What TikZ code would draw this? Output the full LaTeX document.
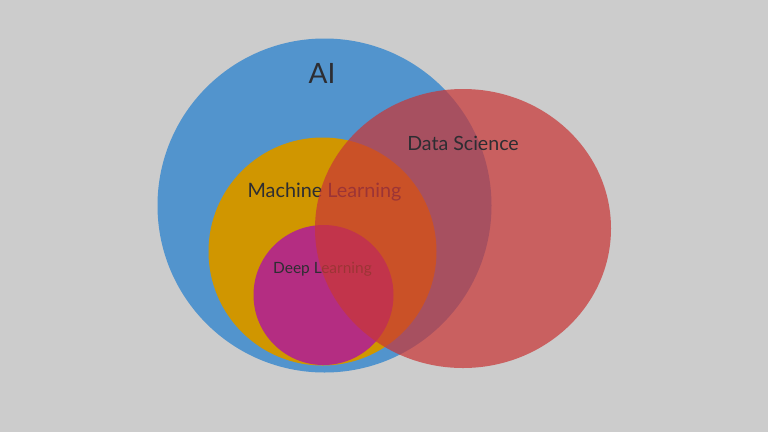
\documentclass[tikz,border=0pt]{standalone}
\usepackage{fontspec}
\setmainfont{Lato}
\usetikzlibrary{positioning}

\definecolor{bggray}{RGB}{204,204,204}
\definecolor{aiblue}{RGB}{82,148,205}
\definecolor{mlgold}{RGB}{208,150,0}
\definecolor{dlpink}{RGB}{180,45,130}
\definecolor{dsred}{RGB}{200,55,55}
\definecolor{labelgray}{RGB}{45,45,50}

\tikzset{
	label/.style={text=labelgray,inner sep=0pt},
}

\begin{document}
\begin{tikzpicture}[x=1pt,y=-1pt]
		\fill[bggray](0,0) rectangle (768,432);
		\useasboundingbox (0,0) rectangle (768,432);
		\fill[aiblue](324.5,205.5) circle[radius=167];
		\fill[mlgold](322.5,251.5) circle[radius=114];
		\fill[dlpink](323.5,295) circle[radius=70];
		\node (ai) at (322,73) [label,font=\fontsize{28}{28}\selectfont]{AI};
		\node (ml) at (324.5,192) [label,font=\fontsize{19.8}{19.8}\selectfont]{Machine Learning};
		\node (dl) at (322.5,269) [label,font=\fontsize{15.5}{15.5}\selectfont]{Deep Learning};
		\fill[dsred,opacity=0.72](463,228.5) ellipse[x radius=148,y radius=139.5];
		\node (ds) at (463,143) [label,font=\fontsize{19.6}{19.6}\selectfont]{Data Science};
	\end{tikzpicture}
\end{document}
